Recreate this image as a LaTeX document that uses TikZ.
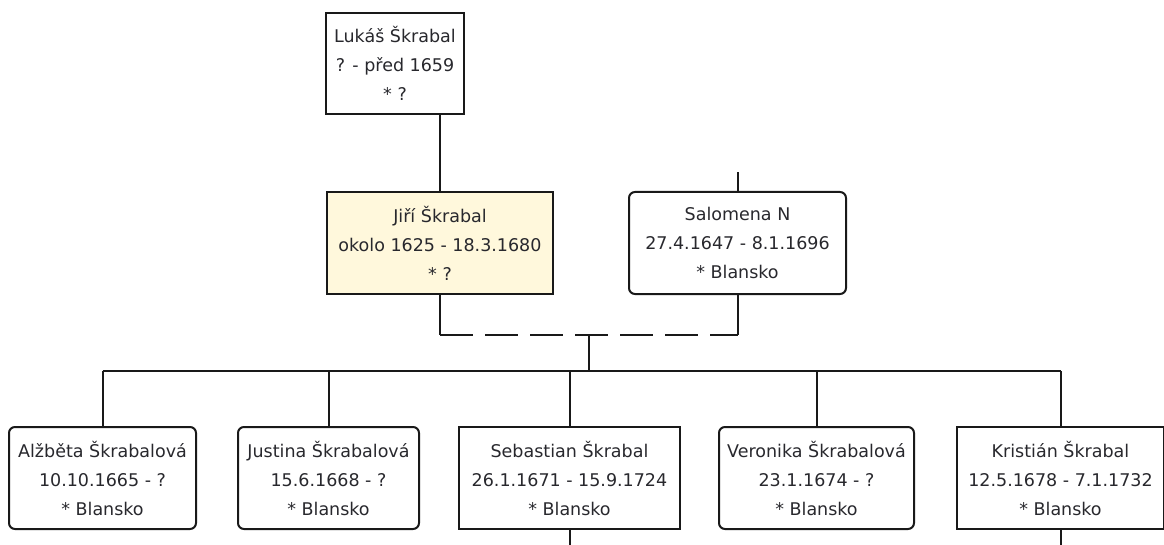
\documentclass[tikz,border=0pt]{standalone}
\usepackage{fontspec}
\setmainfont{DejaVu Sans}
\usetikzlibrary{calc}
\definecolor{txt}{RGB}{40,40,45}
\definecolor{ln}{RGB}{25,25,25}
\definecolor{cream}{RGB}{255,248,220}
\tikzset{
  person/.style={draw=ln, line width=2pt, text=txt, align=center, inner sep=0pt,
    font=\fontsize{17.5}{29}\selectfont, anchor=north west},
  roundbox/.style={person, rounded corners=6pt},
  link/.style={draw=ln, line width=2pt},
  marriage/.style={link, dash pattern=on 33pt off 12pt},
}
\begin{document}
\begin{tikzpicture}[x=1pt,y=-1pt]
\useasboundingbox (0,0) rectangle (1164,545);
% parents
\node[person, minimum width=138pt, minimum height=101pt] (luk) at (325,12)
  {Lukáš Škrabal\\? - před 1659\\* ?};
\node[person, fill=cream, minimum width=226pt, minimum height=102pt] (jiri) at (326,191)
  {Jiří Škrabal\\okolo 1625 - 18.3.1680\\* ?};
\node[roundbox, minimum width=217pt, minimum height=102pt] (sal) at (628,191)
  {Salomena N\\27.4.1647 - 8.1.1696\\* Blansko};
% children
\node[roundbox, minimum width=187pt, minimum height=102pt] (alz) at (8,426)
  {Alžběta Škrabalová\\10.10.1665 - ?\\* Blansko};
\node[roundbox, minimum width=181pt, minimum height=102pt] (jus) at (237,426)
  {Justina Škrabalová\\15.6.1668 - ?\\* Blansko};
\node[person, minimum width=221pt, minimum height=102pt] (seb) at (458,426)
  {Sebastian Škrabal\\26.1.1671 - 15.9.1724\\* Blansko};
\node[roundbox, minimum width=195pt, minimum height=102pt] (ver) at (718,426)
  {Veronika Škrabalová\\23.1.1674 - ?\\* Blansko};
\node[person, minimum width=207pt, minimum height=102pt] (kri) at (956,426)
  {Kristián Škrabal\\12.5.1678 - 7.1.1732\\* Blansko};
% coordinates
\coordinate (saltop) at ($(sal.north)+(0,-19)$);
\coordinate (jd) at ($(jiri.south)+(0,40)$);
\coordinate (sd) at ($(sal.south)+(0,40)$);
\coordinate (mid) at ($(jd)!0.5!(sd)$);
\coordinate (bar) at (0,371);
\coordinate (sebend) at ($(seb.south)+(0,17)$);
\coordinate (kriend) at ($(kri.south)+(0,17)$);
% connectors
\draw[link] (jiri.north) -- (jiri.north |- luk.south);
\draw[link] (sal.north) -- (saltop);
\draw[link] (jiri.south) -- (jd);
\draw[link] (sal.south) -- (sd);
\draw[marriage] (jd) -- (sd);
\draw[link] (mid) -- (mid |- bar);
\draw[link] (alz.north |- bar) -- (kri.north |- bar);
\foreach \c in {alz,jus,seb,ver,kri}{
  \draw[link] (\c.north) -- (\c.north |- bar);
}
\draw[link] (seb.south) -- (sebend);
\draw[link] (kri.south) -- (kriend);
\end{tikzpicture}
\end{document}
